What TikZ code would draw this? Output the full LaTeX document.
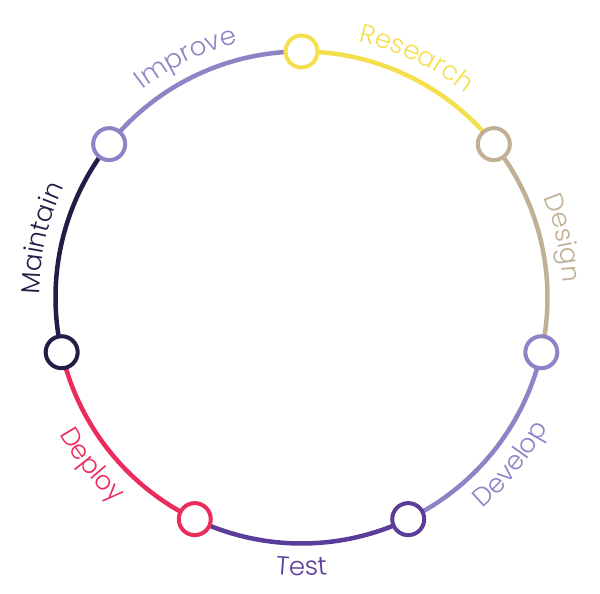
\documentclass[tikz,border=0pt]{standalone}
\usepackage{fontspec}
\newfontfamily\lbl{Poppins Light}
\usetikzlibrary{decorations.text,backgrounds}

\definecolor{cyel}{HTML}{F4E04E}
\definecolor{ctan}{HTML}{BFB096}
\definecolor{clav}{HTML}{8C84C4}
\definecolor{cpur}{HTML}{5A3D98}
\definecolor{cpink}{HTML}{EC2C5C}
\definecolor{cnavy}{HTML}{241C46}

\tikzset{
  station/.style={circle, draw=#1, fill=white, line width=4pt,
                  minimum size=32pt, inner sep=0pt},
  link/.style={draw=#1, line width=4.5pt},
}
% curved label: colour, text, start angle, end angle, radius
\newcommand\arclabel[5]{%
  \path[decorate, decoration={text along path, text align=center,
      text={|\lbl\fontsize{26}{26}\selectfont\color{#1}|#2}}]
      ([shift={(#3:#5)}]c) arc[start angle=#3, end angle=#4, radius=#5];}

\begin{document}
\begin{tikzpicture}[x=1pt,y=1pt]
\useasboundingbox (0,0) rectangle (600,594);
\coordinate (c) at (301.5,296.5);
\def\R{246}

% stations around the cycle
\node[station=cyel]  (research) at ([shift={(90:\R)}]c) {};
\node[station=ctan]  (design)   at ([shift={(38.571:\R)}]c) {};
\node[station=clav]  (develop)  at ([shift={(-12.857:\R)}]c) {};
\node[station=cpur]  (test)     at ([shift={(-64.286:\R)}]c) {};
\node[station=cpink] (deploy)   at ([shift={(-115.714:\R)}]c) {};
\node[station=cnavy] (maintain) at ([shift={(-167.143:\R)}]c) {};
\node[station=clav]  (improve)  at ([shift={(141.429:\R)}]c) {};

% arcs between stations, behind them
\begin{scope}[on background layer]
\draw[link=cyel]  (research.center) arc[start angle=90, end angle=38.571, radius=\R];
\draw[link=ctan]  (design.center)   arc[start angle=38.571, end angle=-12.857, radius=\R];
\draw[link=clav]  (develop.center)  arc[start angle=-12.857, end angle=-64.286, radius=\R];
\draw[link=cpur]  (test.center)     arc[start angle=-64.286, end angle=-115.714, radius=\R];
\draw[link=cpink] (deploy.center)   arc[start angle=-115.714, end angle=-167.143, radius=\R];
\draw[link=cnavy] (maintain.center) arc[start angle=-167.143, end angle=-218.571, radius=\R];
\draw[link=clav]  (improve.center)  arc[start angle=141.429, end angle=90, radius=\R];
\end{scope}

% labels following the ring
\arclabel{cyel}{Research}{90}{38.571}{262}
\arclabel{ctan}{Design}{38.571}{-12.857}{262}
\arclabel{clav}{Develop}{-64.286}{-12.857}{278}
\arclabel{cpur}{Test}{-115.714}{-64.286}{278}
\arclabel{cpink}{Deploy}{-167.143}{-115.714}{278}
\arclabel{cnavy}{Maintain}{-167.143}{-218.571}{262}
\arclabel{clav}{Improve}{141.429}{90}{262}
\end{tikzpicture}
\end{document}
